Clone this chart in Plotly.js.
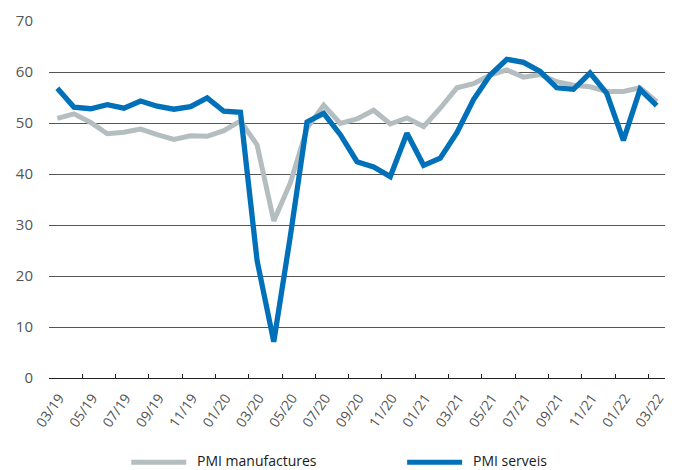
<!DOCTYPE html>
<html><head><meta charset="utf-8">
<script src="https://cdn.plot.ly/plotly-3.0.1.min.js"></script>
<style>html,body{margin:0;padding:0;background:#fff}#chart{width:676px;height:470px}</style>
</head><body><div id="chart"></div>
<script>
const months = ["03/19","04/19","05/19","06/19","07/19","08/19","09/19","10/19","11/19","12/19",
"01/20","02/20","03/20","04/20","05/20","06/20","07/20","08/20","09/20","10/20","11/20","12/20",
"01/21","02/21","03/21","04/21","05/21","06/21","07/21","08/21","09/21","10/21","11/21","12/21",
"01/22","02/22","03/22"];
const pmiManufactures = [50.9,51.8,50.1,47.9,48.2,48.8,47.7,46.8,47.5,47.4,
48.5,50.4,45.7,30.8,38.3,49.0,53.5,49.9,50.8,52.5,49.8,51.0,
49.3,52.9,56.9,57.7,59.4,60.4,59.0,59.5,58.1,57.4,57.1,56.2,
56.2,56.9,54.2];
const pmiServeis = [56.8,53.1,52.8,53.6,52.9,54.3,53.3,52.7,53.2,54.9,
52.3,52.1,23.0,7.1,27.9,50.2,51.9,47.7,42.4,41.4,39.5,48.0,
41.7,43.1,48.1,54.6,59.4,62.5,61.9,60.1,56.9,56.6,59.8,55.8,
46.6,56.6,53.4];
const seriesNames = ["PMI manufactures","PMI serveis"];
const seriesColors = ["#b4bec1","#0071b9"];

const idx = months.map((_, i) => i);
const tickPos = [], tickText = [];
for (let i = 0; i < months.length; i += 2) { tickPos.push(i - 0.5); tickText.push(months[i]); }

const traces = [
  {x: idx, y: pmiManufactures, name: seriesNames[0], type: 'scatter', mode: 'lines',
   line: {color: seriesColors[0], width: 5}, hoverinfo: 'skip'},
  {x: idx, y: pmiServeis, name: seriesNames[1], type: 'scatter', mode: 'lines',
   line: {color: seriesColors[1], width: 5.3}, hoverinfo: 'skip'}
];

const font = "'Open Sans', 'Noto Sans', sans-serif";
const pxX = p => (p - 48.7) / (665 - 48.7);
const pxY = p => (378.3 - p) / (378.3 - 21);
const legLineY = pxY(462.5);
const legTextY = pxY(460.5);

const layout = {
  width: 676, height: 470,
  margin: {l: 48.7, r: 11, t: 21, b: 91.7},
  paper_bgcolor: '#ffffff', plot_bgcolor: '#ffffff',
  showlegend: false,
  font: {family: font, color: '#555555', size: 14},
  xaxis: {
    range: [-0.5, months.length - 0.5],
    tickmode: 'array', tickvals: tickPos, ticktext: tickText,
    ticks: 'inside', ticklen: 4, tickwidth: 1, tickcolor: '#222222',
    ticklabelshift: 10, ticklabelstandoff: 5, tickangle: -55,
    tickfont: {family: font, size: 14, color: '#555555'},
    showline: true, linecolor: '#222222', linewidth: 1.3,
    showgrid: false, zeroline: false, fixedrange: true
  },
  yaxis: {
    range: [0, 70], tickmode: 'linear', tick0: 0, dtick: 10,
    ticks: 'outside', ticklen: 12, tickcolor: 'rgba(0,0,0,0)',
    tickfont: {family: font, size: 15, color: '#555555'},
    showgrid: true, gridcolor: '#555555', gridwidth: 1,
    showline: false, zeroline: false, fixedrange: true
  },
  shapes: [
    {type: 'line', xref: 'paper', yref: 'paper', x0: pxX(131), x1: pxX(186), y0: legLineY, y1: legLineY,
     line: {color: seriesColors[0], width: 5}},
    {type: 'line', xref: 'paper', yref: 'paper', x0: pxX(407), x1: pxX(462), y0: legLineY, y1: legLineY,
     line: {color: seriesColors[1], width: 5}}
  ],
  annotations: [
    {xref: 'paper', yref: 'paper', x: pxX(196), y: legTextY, xanchor: 'left', yanchor: 'middle',
     borderpad: 0, text: seriesNames[0], showarrow: false, font: {family: font, size: 14, color: '#1a1a1a'}},
    {xref: 'paper', yref: 'paper', x: pxX(472), y: legTextY, xanchor: 'left', yanchor: 'middle',
     borderpad: 0, text: seriesNames[1], showarrow: false, font: {family: font, size: 14, color: '#1a1a1a'}}
  ]
};

Plotly.newPlot('chart', traces, layout, {displayModeBar: false, staticPlot: true});
</script></body></html>
